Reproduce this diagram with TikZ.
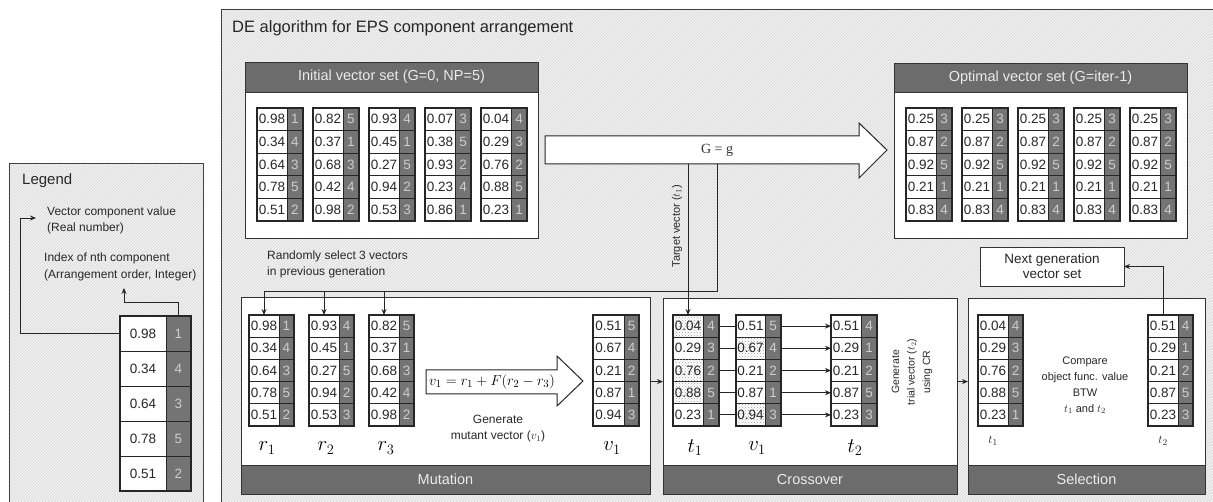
\documentclass[tikz,border=0pt]{standalone}
\usepackage{fontspec}
\setmainfont{Liberation Sans}
\newfontfamily\serifface{Liberation Serif}
\usetikzlibrary{arrows.meta,patterns,calc}

\definecolor{hdr}{RGB}{108,108,108}
\definecolor{gcell}{RGB}{116,116,116}
\definecolor{gtxt}{RGB}{205,205,205}
\definecolor{txt}{RGB}{40,40,40}
\definecolor{hbg}{RGB}{240,240,240}
\definecolor{hln}{RGB}{218,218,218}

\newcommand{\cellfnt}{\fontsize{13.5}{14}\selectfont}
\newcommand{\hdrfnt}{\fontsize{14.5}{16}\selectfont}

\tikzset{
  cellopt/.code={\edef\tmpkey{\noexpand\pgfkeysalso{/tikz/#1/.try}}\tmpkey},
  valcell/.style={draw=black!85, fill=white, inner sep=0pt, outer sep=0pt, line width=0.6pt, font=\cellfnt, text=txt},
  idxcell/.style={draw=black!85, fill=gcell, inner sep=0pt, outer sep=0pt, line width=0.6pt, font=\cellfnt, text=gtxt},
  patcell/.style={postaction={pattern=crosshatch dots, pattern color=gray!75}},
  vecframe/.style={draw=black!85, line width=1.1pt},
  hatch/.style={preaction={fill=hbg}, pattern=north east lines, pattern color=hln},
  panel/.style={draw=black!80, line width=0.9pt, fill=white, inner sep=0pt, outer sep=0pt, anchor=north west},
  header/.style={draw=black!80, line width=0.9pt, fill=hdr, text=white!92!black, font=\hdrfnt, inner sep=0pt, outer sep=0pt, anchor=north west},
  arr/.style={-{Stealth[length=6pt,width=5pt]}, line width=0.9pt, draw=black!85},
  conn/.style={line width=0.9pt, draw=black!85},
  bigarrow/.style={draw=black!85, line width=1pt, fill=white},
  lbl/.style={text=txt, inner sep=0pt, align=center},
  mlbl/.style={text=black, inner sep=0pt, font=\fontsize{21}{22}\selectfont},
}

% name, x, y, value width, index width, row height, list
\newcommand{\vecbox}[7]{%
  \foreach \cv/\cg [count=\i] in {#7}{%
    \node[valcell, minimum width=#4pt, minimum height=#6pt, anchor=north west, cellopt={#1-c\i}] (#1-\i) at (#2,{#3+(\i-1)*#6}) {\cv};
    \node[idxcell, minimum width=#5pt, minimum height=#6pt, anchor=north west] (#1-g\i) at (#1-\i.north east) {\cg};
  }%
  \draw[vecframe] (#1-1.north west) rectangle (#1-g5.south east);
}

\begin{document}
\begin{tikzpicture}[x=1pt, y=-1pt]
\useasboundingbox (0,0) rectangle (1213,502);
\clip (0,0) rectangle (1213,502);
\fill[white] (0,0) rectangle (1213,502);

% ---------- Legend ----------
\draw[hatch, draw=black!75, line width=1pt] (9,164) rectangle (203,530);
\node[anchor=west, inner sep=0pt, text=txt, font=\fontsize{15}{16}\selectfont] (legt) at (22,181) {Legend};
\vecbox{lv}{120}{316}{46}{25}{35}{0.98/1,0.34/4,0.64/3,0.78/5,0.51/2}
\node[lbl, anchor=west, align=left, font=\fontsize{12}{16}\selectfont] (ltv) at (47,220) {Vector component value\\(Real number)};
\node[lbl, anchor=west, align=left, font=\fontsize{12}{17}\selectfont] (lti) at (44,266.5) {Index of nth component\\(Arrangement order, Integer)};
\coordinate (lcor) at (20,218);
\coordinate (lvt) at (36,218);
\draw[arr] (lv-1.west) -| (lcor) -- (lvt);
\coordinate (lit) at (124,288);
\draw[arr] (lv-g1.north) -- ++(0,-14) -| (lit);

% ---------- Main frame ----------
\draw[hatch, draw=black!75, line width=1pt] (221,10) rectangle (1240,530);
\node[anchor=west, inner sep=0pt, text=black!85, font=\fontsize{16.5}{18}\selectfont] (title) at (232,28) {DE algorithm for EPS component arrangement};

% Initial vector set
\node[panel, minimum width=293pt, minimum height=176pt] (ini) at (245,62) {};
\node[header, minimum width=293pt, minimum height=30pt] (inih) at (ini.north west) {Initial vector set (G=0, NP=5)};
\vecbox{iv1}{257}{108}{30}{16}{22.6}{0.98/1,0.34/4,0.64/3,0.78/5,0.51/2}
\vecbox{iv2}{313}{108}{30}{16}{22.6}{0.82/5,0.37/1,0.68/3,0.42/4,0.98/2}
\vecbox{iv3}{369}{108}{30}{16}{22.6}{0.93/4,0.45/1,0.27/5,0.94/2,0.53/3}
\vecbox{iv4}{425}{108}{30}{16}{22.6}{0.07/3,0.38/5,0.93/2,0.23/4,0.86/1}
\vecbox{iv5}{481}{108}{30}{16}{22.6}{0.04/4,0.29/3,0.76/2,0.88/5,0.23/1}

% Optimal vector set
\node[panel, minimum width=293pt, minimum height=175pt] (opt) at (894,63) {};
\node[header, minimum width=293pt, minimum height=29pt] (opth) at (opt.north west) {Optimal vector set (G=iter-1)};
\foreach \k in {0,...,4}{
  \vecbox{ov\k}{906+56*\k}{108}{30}{16}{22.6}{0.25/3,0.87/2,0.92/5,0.21/1,0.83/4}
}

% G = g arrow
\draw[bigarrow] (545,136) -- (859,136) -- (859,123) -- (887,150) -- (859,178) -- (859,164) -- (545,164) -- cycle;
\node[inner sep=0pt, font=\serifface\fontsize{14}{15}\selectfont, text=black!80] (gg) at (717,150) {G = g};

% Mutation panel
\node[panel, minimum width=409pt, minimum height=197pt] (mut) at (241,297) {};
\node[header, minimum width=409pt, minimum height=29pt, anchor=south west] (mutf) at (mut.south west) {Mutation};
\vecbox{mr1}{249}{315}{30}{15}{22.2}{0.98/1,0.34/4,0.64/3,0.78/5,0.51/2}
\vecbox{mr2}{309}{315}{30}{15}{22.2}{0.93/4,0.45/1,0.27/5,0.94/2,0.53/3}
\vecbox{mr3}{369}{315}{30}{15}{22.2}{0.82/5,0.37/1,0.68/3,0.42/4,0.98/2}
\vecbox{mv}{593}{315}{31}{15}{22.2}{0.51/5,0.67/4,0.21/2,0.87/1,0.94/3}
\draw[bigarrow] (426,370) -- (557,370) -- (557,356) -- (583,381) -- (557,406) -- (557,394) -- (426,394) -- cycle;
\node[inner sep=0pt, font=\fontsize{15.5}{16}\selectfont] (form) at (492,382) {$v_1 = r_1 + F(r_2 - r_3)$};
\node[lbl, font=\fontsize{12}{16}\selectfont] (gmv) at (498,429) {Generate\\mutant vector ($v_1$)};
\node[mlbl] (lr1) at (267,448) {$r_1$};
\node[mlbl] (lr2) at (326,448) {$r_2$};
\node[mlbl] (lr3) at (386,448) {$r_3$};
\node[mlbl] (lv1) at (612,448) {$v_1$};

% Crossover panel
\node[panel, minimum width=294pt, minimum height=196pt] (cro) at (663,298) {};
\node[header, minimum width=294pt, minimum height=29pt, anchor=south west] (crof) at (cro.south west) {Crossover};
\tikzset{ct-c1/.style=patcell, ct-c3/.style=patcell, ct-c4/.style=patcell, cv-c2/.style=patcell, cv-c5/.style=patcell}
\vecbox{ct}{673}{315}{30}{16}{22.2}{0.04/4,0.29/3,0.76/2,0.88/5,0.23/1}
\vecbox{cv}{736}{315}{29}{16}{22.2}{0.51/5,0.67/4,0.21/2,0.87/1,0.94/3}
\vecbox{ct2}{831}{315}{30}{16}{22.2}{0.51/4,0.29/1,0.21/2,0.87/5,0.23/3}
\foreach \i in {1,...,5}{
  \draw[conn] (ct-g\i.east) -- (cv-\i.west);
  \draw[arr] (cv-g\i.east) -- (ct2-\i.west);
}
\node[lbl, rotate=90, font=\fontsize{10.5}{15.5}\selectfont] (gtv) at (912,372) {Generate\\trial vector ($t_2$)\\using CR};
\node[mlbl] (lt1) at (695,448) {$t_1$};
\node[mlbl] (lcv1) at (757,448) {$v_1$};
\node[mlbl] (lt2) at (855,448) {$t_2$};

% Selection panel
\node[panel, minimum width=237pt, minimum height=196pt] (sel) at (968,298) {};
\node[header, minimum width=237pt, minimum height=29pt, anchor=south west] (self) at (sel.south west) {Selection};
\vecbox{st1}{978}{315}{30}{15}{22.2}{0.04/4,0.29/3,0.76/2,0.88/5,0.23/1}
\vecbox{st2}{1148}{315}{30}{15}{22.2}{0.51/4,0.29/1,0.21/2,0.87/5,0.23/3}
\node[lbl, font=\fontsize{11}{16}\selectfont] (cmp) at (1085,385) {Compare\\object func. value\\BTW\\$t_1$ and $t_2$};
\node[inner sep=0pt, font=\fontsize{13}{14}\selectfont, text=txt] (ls1) at (993,441) {$t_1$};
\node[inner sep=0pt, font=\fontsize{13}{14}\selectfont, text=txt] (ls2) at (1163,441) {$t_2$};

% Next generation
\node[panel, minimum width=144pt, minimum height=39pt, align=center, font=\fontsize{13.5}{15}\selectfont, text=black!85] (ng) at (980,247) {Next generation\\vector set};
\draw[arr] (st2-1.north) |- (ng.east);

% Flow connectors
\coordinate (gsel) at (717,164);
\coordinate (selc) at (717,291);
\draw[conn] (gsel) -- (selc) -- (selc -| mr1-1.north);
\foreach \n in {mr1,mr2,mr3}{
  \draw[arr] (selc -| \n-1.north) -- (\n-1.north);
}
\node[lbl, anchor=west, align=left, font=\fontsize{12}{16}\selectfont] (rsel) at (267,264) {Randomly select 3 vectors\\in previous generation};
\coordinate (gtar) at (ct-1.north |- gsel);
\draw[arr] (gtar) -- (ct-1.north);
\node[lbl, rotate=90, font=\fontsize{11}{12}\selectfont] (tvl) at (677,226) {Target vector ($t_1$)};
\draw[arr] (mut.east |- mv-3.south) -- (cro.west |- mv-3.south);
\draw[arr] (cro.east |- mv-3.south) -- (sel.west |- mv-3.south);
\end{tikzpicture}
\end{document}
